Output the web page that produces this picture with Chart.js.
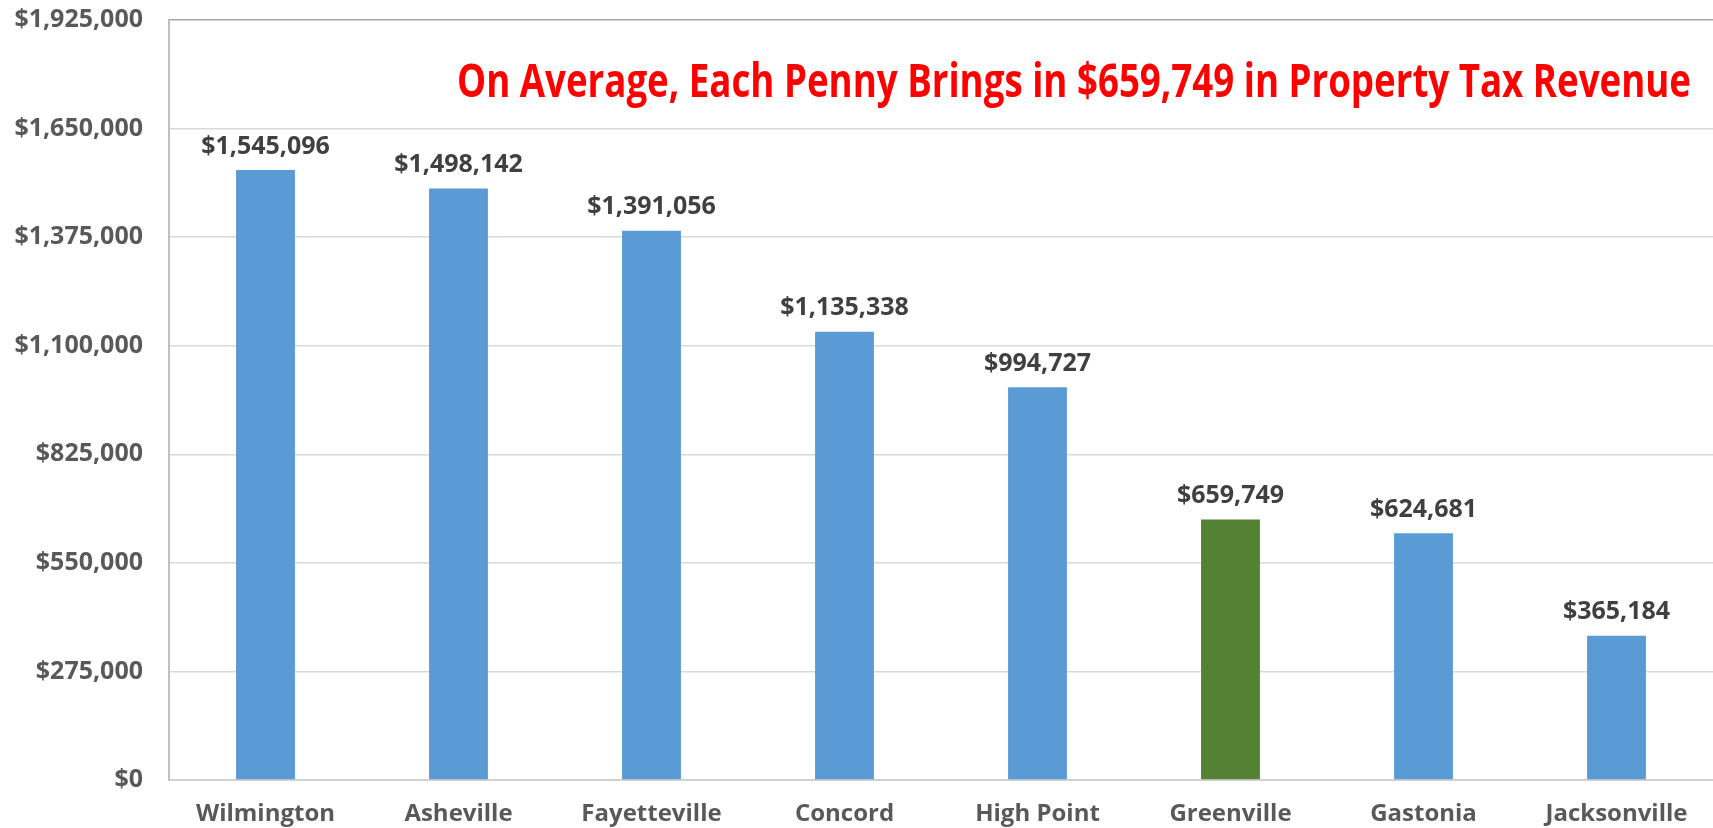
<!DOCTYPE html>
<html>
<head>
<meta charset="utf-8">
<script src="https://cdn.jsdelivr.net/npm/chart.js@4/dist/chart.umd.min.js"></script>
<style>
  html, body { margin: 0; padding: 0; background: #fff; }
  #wrap { width: 1713px; height: 828px; }
</style>
</head>
<body>
<div id="wrap"><canvas id="myChart" width="1713" height="828"></canvas></div>
<script>
// cities and revenue per penny of property tax
const cities = ['Wilmington', 'Asheville', 'Fayetteville', 'Concord', 'High Point', 'Greenville', 'Gastonia', 'Jacksonville'];
const revenue = [1545096, 1498142, 1391056, 1135338, 994727, 659749, 624681, 365184];
const highlight = 'Greenville';
const yMax = 1925000;
const yStep = 275000;
const headline = 'On Average, Each Penny Brings in $659,749 in Property Tax Revenue';

const money = v => '$' + Math.round(v).toLocaleString('en-US');
const FONT = '"Open Sans", "Noto Sans", sans-serif';

// value labels over each bar
const barLabels = {
    id: 'barLabels',
    afterDatasetsDraw(chart) {
        const ctx = chart.ctx;
        const meta = chart.getDatasetMeta(0);
        ctx.save();
        ctx.font = 'bold 25px ' + FONT;
        ctx.fillStyle = '#404040';
        ctx.textAlign = 'center';
        ctx.textBaseline = 'bottom';
        meta.data.forEach((bar, i) => {
            ctx.fillText(money(revenue[i]), bar.x, bar.y - 11);
        });
        ctx.restore();
    }
};

// red headline inside the plot, top right (squeezed to look like a condensed face)
const headlinePlugin = {
    id: 'headline',
    afterDraw(chart) {
        const ctx = chart.ctx;
        const area = chart.chartArea;
        ctx.save();
        ctx.font = 'bold 47px ' + FONT;
        ctx.fillStyle = '#ff0000';
        ctx.textAlign = 'right';
        ctx.textBaseline = 'middle';
        const w = ctx.measureText(headline).width;
        const sx = 1234 / w;
        ctx.translate(area.right - 22, area.top + 64);
        ctx.scale(sx, 1);
        ctx.fillText(headline, 0, 0);
        ctx.restore();
    }
};

const ctx = document.getElementById('myChart');
const myChart = new Chart(ctx, {
    type: 'bar',
    data: {
        labels: cities,
        datasets: [{
            data: revenue,
            backgroundColor: cities.map(c => c === highlight ? '#548235' : '#5b9bd5'),
            categoryPercentage: 1,
            barPercentage: 0.305
        }]
    },
    options: {
        responsive: false,
        animation: false,
        layout: { padding: { top: 20, right: 0, bottom: 0, left: 0 } },
        scales: {
            x: {
                grid: { display: false, drawTicks: false },
                border: { color: '#d0d0d0', width: 2 },
                ticks: {
                    padding: 20,
                    color: '#595959',
                    font: { family: FONT, size: 24, weight: 'bold' }
                },
                afterFit(scale) { scale.height = 48; }
            },
            y: {
                min: 0,
                max: yMax,
                grid: {
                    drawTicks: false,
                    lineWidth: 1.5,
                    color: c => c.tick && c.tick.value === yMax ? '#a6a6a6' : '#d9d9d9'
                },
                border: { color: '#bfbfbf', width: 2 },
                ticks: {
                    stepSize: yStep,
                    padding: 26,
                    color: '#595959',
                    font: { family: FONT, size: 25, weight: 'bold' },
                    callback: v => money(v)
                },
                afterFit(scale) {
                    scale.width = 169;
                    scale.paddingTop = 0;
                    scale.paddingBottom = 0;
                }
            }
        },
        plugins: {
            legend: { display: false },
            title: { display: false },
            tooltip: { enabled: false }
        }
    },
    plugins: [barLabels, headlinePlugin]
});
</script>
</body>
</html>
